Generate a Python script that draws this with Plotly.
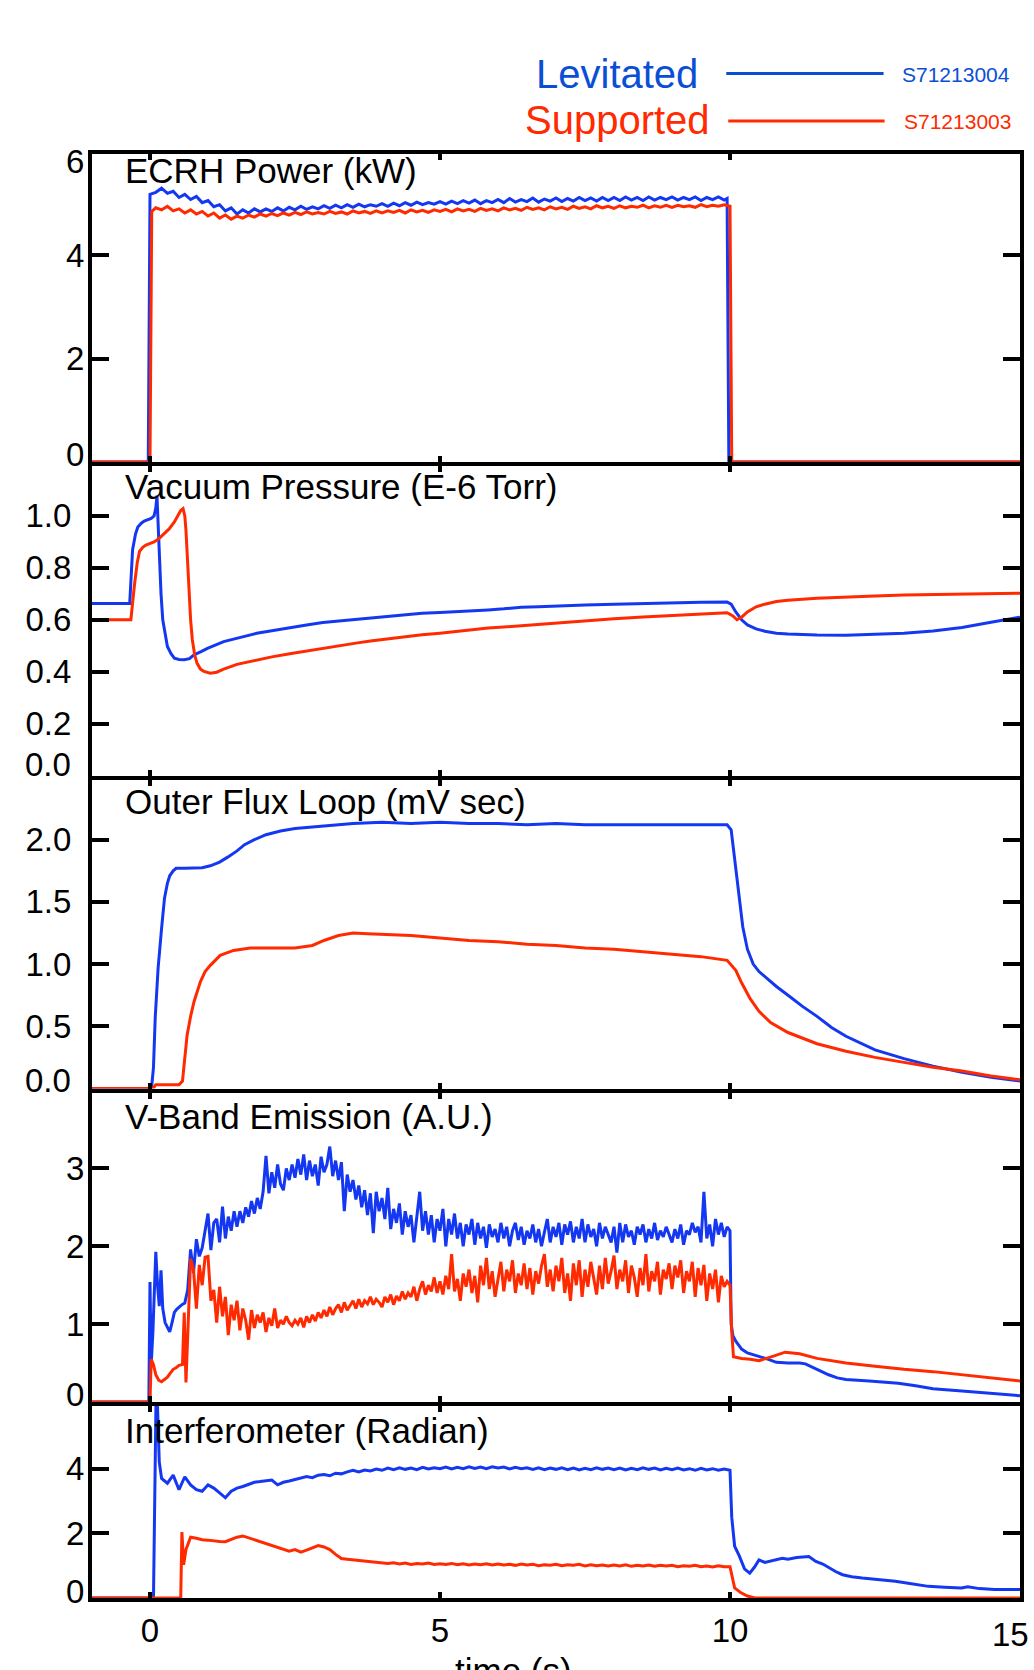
import plotly.graph_objects as go

# ---------------- DATA ----------------
# ECRH Power (kW)
ecrh_lev_t = [-1.0, -0.03,
    0.0, 0.1, 0.2, 0.3, 0.4, 0.5, 0.6, 0.7, 0.8, 0.9,
    1.0, 1.1, 1.2, 1.3, 1.4, 1.5, 1.6, 1.7, 1.8, 1.9,
    2.0, 2.1, 2.2, 2.3, 2.4, 2.5, 2.6, 2.7, 2.8, 2.9,
    3.0, 3.1, 3.2, 3.3, 3.4, 3.5, 3.6, 3.7, 3.8, 3.9,
    4.0, 4.1, 4.2, 4.3, 4.4, 4.5, 4.6, 4.7, 4.8, 4.9,
    5.0, 5.1, 5.2, 5.3, 5.4, 5.5, 5.6, 5.7, 5.8, 5.9,
    6.0, 6.1, 6.2, 6.3, 6.4, 6.5, 6.6, 6.7, 6.8, 6.9,
    7.0, 7.1, 7.2, 7.3, 7.4, 7.5, 7.6, 7.7, 7.8, 7.9,
    8.0, 8.1, 8.2, 8.3, 8.4, 8.5, 8.6, 8.7, 8.8, 8.9,
    9.0, 9.1, 9.2, 9.3, 9.4, 9.5, 9.6, 9.7, 9.8, 9.9,
    9.95, 9.98, 15.0]
ecrh_lev_v = [0.0, 0.0,
    5.18, 5.22, 5.30, 5.20, 5.24, 5.12, 5.18, 5.08, 5.14, 5.02,
    5.06, 4.94, 4.98, 4.86, 4.92, 4.80, 4.88, 4.82, 4.90, 4.84,
    4.90, 4.85, 4.92, 4.86, 4.93, 4.88, 4.95, 4.89, 4.94, 4.90,
    4.96, 4.91, 4.97, 4.92, 4.98, 4.93, 4.99, 4.94, 4.98, 4.95,
    5.00, 4.95, 5.01, 4.96, 5.02, 4.97, 5.03, 4.98, 5.02, 4.99,
    5.04, 4.99, 5.05, 5.00, 5.06, 5.01, 5.07, 5.00, 5.06, 5.02,
    5.08, 5.02, 5.10, 5.03, 5.08, 5.04, 5.11, 5.03, 5.09, 5.05,
    5.11, 5.04, 5.10, 5.05, 5.12, 5.06, 5.11, 5.05, 5.12, 5.06,
    5.12, 5.06, 5.13, 5.07, 5.12, 5.06, 5.13, 5.07, 5.12, 5.08,
    5.13, 5.07, 5.12, 5.08, 5.13, 5.06, 5.12, 5.08, 5.13, 5.07,
    5.10, 0.0, 0.0]

ecrh_sup_t = [-1.0, 0.0, 0.03,
    0.1, 0.2, 0.3, 0.4, 0.5, 0.6, 0.7, 0.8, 0.9,
    1.0, 1.1, 1.2, 1.3, 1.4, 1.5, 1.6, 1.7, 1.8, 1.9,
    2.0, 2.1, 2.2, 2.3, 2.4, 2.5, 2.6, 2.7, 2.8, 2.9,
    3.0, 3.1, 3.2, 3.3, 3.4, 3.5, 3.6, 3.7, 3.8, 3.9,
    4.0, 4.1, 4.2, 4.3, 4.4, 4.5, 4.6, 4.7, 4.8, 4.9,
    5.0, 5.1, 5.2, 5.3, 5.4, 5.5, 5.6, 5.7, 5.8, 5.9,
    6.0, 6.1, 6.2, 6.3, 6.4, 6.5, 6.6, 6.7, 6.8, 6.9,
    7.0, 7.1, 7.2, 7.3, 7.4, 7.5, 7.6, 7.7, 7.8, 7.9,
    8.0, 8.1, 8.2, 8.3, 8.4, 8.5, 8.6, 8.7, 8.8, 8.9,
    9.0, 9.1, 9.2, 9.3, 9.4, 9.5, 9.6, 9.7, 9.8, 9.9,
    10.0, 10.03, 15.0]
ecrh_sup_v = [0.0, 0.0, 4.85,
    4.92, 4.88, 4.95, 4.86, 4.90, 4.82, 4.88, 4.80, 4.85,
    4.76, 4.82, 4.72, 4.78, 4.70, 4.76, 4.72, 4.78, 4.74, 4.80,
    4.76, 4.81, 4.77, 4.82, 4.78, 4.83, 4.79, 4.84, 4.80, 4.83,
    4.80, 4.85, 4.81, 4.84, 4.80, 4.86, 4.82, 4.85, 4.81, 4.86,
    4.82, 4.86, 4.83, 4.87, 4.82, 4.88, 4.84, 4.87, 4.83, 4.88,
    4.85, 4.89, 4.84, 4.90, 4.86, 4.89, 4.85, 4.91, 4.87, 4.90,
    4.86, 4.92, 4.88, 4.91, 4.87, 4.93, 4.89, 4.92, 4.88, 4.94,
    4.90, 4.93, 4.89, 4.95, 4.91, 4.94, 4.90, 4.96, 4.92, 4.95,
    4.91, 4.96, 4.92, 4.95, 4.93, 4.97, 4.92, 4.96, 4.93, 4.97,
    4.93, 4.97, 4.94, 4.96, 4.93, 4.98, 4.94, 4.97, 4.95, 4.98,
    4.95, 0.0, 0.0]

# Vacuum Pressure (E-6 Torr)
pres_lev_t = [-1.0, -0.35, -0.30, -0.25, -0.21, -0.15, -0.10, -0.03, 0.02, 0.07,
    0.10, 0.12, 0.14, 0.16, 0.19, 0.22, 0.26, 0.30, 0.36, 0.42,
    0.50, 0.59, 0.68, 0.76, 0.88, 0.99, 1.27, 1.6, 1.84, 2.1,
    2.41, 2.7, 2.98, 3.3, 3.55, 3.8, 4.12, 4.4, 4.69, 5.0,
    5.26, 5.5, 5.83, 6.1, 6.4, 6.7, 6.97, 7.5, 8.0, 8.5,
    9.0, 9.5, 9.95, 10.02, 10.1, 10.2, 10.3, 10.45, 10.6, 10.8,
    11.0, 11.5, 12.0, 12.5, 13.0, 13.5, 14.0, 14.5, 15.0]
pres_lev_v = [0.663, 0.663, 0.87, 0.93, 0.957, 0.972, 0.980, 0.985, 0.99, 1.00,
    1.03, 1.078, 0.95, 0.82, 0.70, 0.60, 0.54, 0.497, 0.47, 0.452,
    0.447, 0.446, 0.450, 0.465, 0.477, 0.49, 0.516, 0.535, 0.548, 0.558,
    0.57, 0.58, 0.589, 0.596, 0.602, 0.607, 0.615, 0.62, 0.625, 0.628,
    0.632, 0.635, 0.638, 0.642, 0.648, 0.65, 0.653, 0.657, 0.660, 0.663,
    0.665, 0.667, 0.668, 0.66, 0.63, 0.60, 0.58, 0.565, 0.556, 0.548,
    0.545, 0.541, 0.540, 0.543, 0.548, 0.557, 0.57, 0.59, 0.61]

pres_sup_t = [-1.0, -0.33, -0.27, -0.22, -0.18, -0.12, -0.07, 0.0, 0.07, 0.15,
    0.25, 0.33, 0.42, 0.48, 0.53, 0.57, 0.60, 0.62, 0.645, 0.67,
    0.70, 0.73, 0.77, 0.81, 0.87, 0.93, 1.04, 1.15, 1.27, 1.5,
    1.84, 2.1, 2.41, 2.7, 2.98, 3.3, 3.55, 3.8, 4.12, 4.4,
    4.69, 5.0, 5.26, 5.5, 5.83, 6.1, 6.4, 6.7, 6.97, 7.5,
    8.0, 8.5, 9.0, 9.5, 9.95, 10.05, 10.12, 10.2, 10.3, 10.45,
    10.6, 10.8, 11.0, 11.5, 12.0, 12.5, 13.0, 13.5, 14.0, 14.5,
    15.0]
pres_sup_v = [0.60, 0.60, 0.73, 0.82, 0.864, 0.880, 0.888, 0.895, 0.90, 0.912,
    0.932, 0.950, 0.977, 1.000, 1.021, 1.028, 1.00, 0.945, 0.82, 0.69,
    0.60, 0.523, 0.465, 0.433, 0.41, 0.401, 0.394, 0.398, 0.41, 0.428,
    0.446, 0.457, 0.469, 0.48, 0.49, 0.50, 0.51, 0.518, 0.527, 0.535,
    0.542, 0.548, 0.555, 0.56, 0.568, 0.572, 0.577, 0.583, 0.589, 0.597,
    0.604, 0.611, 0.617, 0.622, 0.627, 0.615, 0.60, 0.61, 0.63, 0.65,
    0.66, 0.67, 0.675, 0.683, 0.688, 0.692, 0.695, 0.697, 0.699, 0.700,
    0.702]

# Outer Flux Loop (mV sec)
flux_lev_t = [-1.0, 0.0, 0.03, 0.06, 0.09, 0.14, 0.20, 0.25, 0.30, 0.34,
    0.40, 0.45, 0.6, 0.76, 0.9, 1.04, 1.2, 1.34, 1.5, 1.63,
    1.8, 2.0, 2.25, 2.5, 2.75, 3.0, 3.5, 4.0, 4.5, 5.0,
    5.5, 6.0, 6.5, 7.0, 7.5, 8.0, 8.5, 9.0, 9.5, 9.95,
    10.02, 10.08, 10.15, 10.22, 10.3, 10.4, 10.5, 10.65, 10.8, 11.0,
    11.25, 11.5, 11.75, 12.0, 12.5, 13.0, 13.5, 14.0, 14.5, 15.0]
flux_lev_v = [0.0, 0.0, 0.02, 0.17, 0.57, 0.97, 1.29, 1.53, 1.65, 1.71,
    1.75, 1.77, 1.77, 1.77, 1.775, 1.79, 1.82, 1.86, 1.91, 1.96,
    2.0, 2.04, 2.07, 2.09, 2.10, 2.11, 2.13, 2.14, 2.13, 2.14,
    2.13, 2.13, 2.12, 2.13, 2.12, 2.12, 2.12, 2.12, 2.12, 2.12,
    2.08, 1.85, 1.55, 1.30, 1.12, 1.0, 0.94, 0.88, 0.82, 0.75,
    0.66, 0.58, 0.49, 0.42, 0.31, 0.24, 0.18, 0.13, 0.09, 0.06]

flux_sup_t = [-1.0, 0.05, 0.10, 0.30, 0.50, 0.56, 0.60, 0.64, 0.70, 0.76,
    0.87, 0.95, 1.04, 1.21, 1.44, 1.73, 2.0, 2.5, 2.8, 3.0,
    3.25, 3.5, 3.75, 4.0, 4.5, 5.0, 5.5, 6.0, 6.5, 7.0,
    7.5, 8.0, 8.5, 9.0, 9.5, 9.95, 10.1, 10.2, 10.35, 10.5,
    10.7, 11.0, 11.5, 12.0, 12.5, 13.0, 13.5, 14.0, 14.5, 15.0]
flux_sup_v = [0.0, 0.0, 0.03, 0.03, 0.03, 0.06, 0.25, 0.43, 0.58, 0.70,
    0.86, 0.94, 0.99, 1.07, 1.11, 1.13, 1.13, 1.13, 1.15, 1.19,
    1.23, 1.25, 1.245, 1.24, 1.23, 1.21, 1.19, 1.18, 1.16, 1.15,
    1.13, 1.12, 1.10, 1.08, 1.06, 1.03, 0.95, 0.85, 0.72, 0.62,
    0.53, 0.45, 0.36, 0.30, 0.25, 0.21, 0.17, 0.14, 0.10, 0.07]

# V-Band Emission (A.U.)
vb_lev_t = [-1.0, -0.02, 0.0, 0.02, 0.05, 0.08, 0.10, 0.13, 0.16, 0.19,
    0.22, 0.26, 0.30, 0.34, 0.38, 0.42, 0.46,
    0.50, 0.55, 0.60, 0.65, 0.70, 0.75, 0.80, 0.85, 0.90, 0.95,
    1.00, 1.05, 1.10, 1.15, 1.20, 1.25, 1.30, 1.35, 1.40, 1.45,
    1.50, 1.55, 1.60, 1.65, 1.70, 1.75, 1.80, 1.85, 1.90, 1.95,
    2.00, 2.05, 2.10, 2.15, 2.20, 2.25, 2.30, 2.35, 2.40, 2.45,
    2.50, 2.55, 2.60, 2.65, 2.70, 2.75, 2.80, 2.85, 2.90, 2.95,
    3.00, 3.05, 3.10, 3.15, 3.20, 3.25, 3.30, 3.35, 3.40, 3.45,
    3.50, 3.55, 3.60, 3.65, 3.70, 3.75, 3.80, 3.85, 3.90, 3.95,
    4.00, 4.05, 4.10, 4.15, 4.20, 4.25, 4.30, 4.35, 4.40, 4.45,
    4.50, 4.55, 4.60, 4.65, 4.70, 4.75, 4.80, 4.85, 4.90, 4.95,
    5.00, 5.05, 5.10, 5.15, 5.20, 5.25, 5.30, 5.35, 5.40, 5.45,
    5.50, 5.55, 5.60, 5.65, 5.70, 5.75, 5.80, 5.85, 5.90, 5.95,
    6.00, 6.05, 6.10, 6.15, 6.20, 6.25, 6.30, 6.35, 6.40, 6.45,
    6.50, 6.55, 6.60, 6.65, 6.70, 6.75, 6.80, 6.85, 6.90, 6.95,
    7.00, 7.05, 7.10, 7.15, 7.20, 7.25, 7.30, 7.35, 7.40, 7.45,
    7.50, 7.55, 7.60, 7.65, 7.70, 7.75, 7.80, 7.85, 7.90, 7.95,
    8.00, 8.05, 8.10, 8.15, 8.20, 8.25, 8.30, 8.35, 8.40, 8.45,
    8.50, 8.55, 8.60, 8.65, 8.70, 8.75, 8.80, 8.85, 8.90, 8.95,
    9.00, 9.05, 9.10, 9.15, 9.20, 9.25, 9.30, 9.35, 9.40, 9.45,
    9.50, 9.55, 9.60, 9.65, 9.70, 9.75, 9.80, 9.85, 9.90, 9.95,
    10.00, 10.02, 10.05, 10.1, 10.2, 10.3, 10.4, 10.5, 10.65, 10.8,
    11.0, 11.2, 11.3, 11.5, 11.7, 11.85, 12.0, 12.4, 12.9, 13.2,
    13.5, 14.0, 14.5, 15.0]
vb_lev_v = [0.0, 0.0, 1.54, 0.47, 0.90, 1.50, 1.93, 1.50, 1.23, 1.69,
    1.20, 1.02, 0.95, 0.90, 1.02, 1.15, 1.19,
    1.22, 1.25, 1.27, 1.44, 1.96, 1.66, 2.09, 1.87, 1.98, 2.21,
    2.42, 1.95, 2.30, 2.35, 2.05, 2.51, 2.10, 2.38, 2.20, 2.45,
    2.25, 2.45, 2.30, 2.50, 2.38, 2.58, 2.42, 2.62, 2.48, 2.70,
    3.16, 2.68, 2.95, 2.75, 3.05, 2.80, 2.72, 3.00, 2.85, 3.05,
    2.88, 3.12, 2.92, 3.18, 2.85, 3.10, 2.90, 3.05, 2.78, 3.15,
    2.95, 3.05, 3.28, 2.90, 3.10, 2.85, 3.08, 2.45, 2.92, 2.70,
    2.85, 2.60, 2.78, 2.50, 2.72, 2.40, 2.68, 2.17, 2.70, 2.45,
    2.62, 2.35, 2.75, 2.22, 2.48, 2.30, 2.55, 2.15, 2.45, 2.25,
    2.40, 2.05, 2.35, 2.70, 2.20, 2.45, 2.15, 2.40, 2.05, 2.35,
    2.20, 2.48, 2.00, 2.35, 2.15, 2.42, 2.10, 2.30, 2.00, 2.28,
    2.15, 2.35, 2.02, 2.30, 2.10, 2.25, 1.98, 2.28, 2.12, 2.22,
    2.05, 2.30, 2.10, 2.25, 2.00, 2.20, 2.30, 2.08, 2.25, 2.02,
    2.20, 2.10, 2.28, 2.05, 2.22, 2.00, 2.18, 2.35, 2.05, 2.25,
    2.12, 2.30, 2.02, 2.28, 2.15, 2.32, 2.05, 2.25, 2.10, 2.35,
    2.05, 2.28, 2.12, 2.22, 2.00, 2.30, 2.10, 2.25, 2.15, 2.05,
    2.25, 1.92, 2.30, 2.05, 2.28, 2.12, 2.20, 2.02, 2.25, 2.15,
    2.28, 2.05, 2.22, 2.10, 2.30, 2.08, 2.20, 2.12, 2.25, 2.15,
    2.05, 2.22, 2.10, 2.28, 2.02, 2.20, 2.15, 2.30, 2.18, 2.25,
    2.05, 2.70, 2.10, 2.28, 2.00, 2.35, 2.15, 2.30, 2.12, 2.25,
    2.20, 1.00, 0.85, 0.78, 0.68, 0.63, 0.61, 0.58, 0.55, 0.51,
    0.50, 0.50, 0.49, 0.42, 0.35, 0.31, 0.29, 0.27, 0.24, 0.21,
    0.17, 0.14, 0.11, 0.08]

vb_sup_t = [-1.0, 0.0, 0.02, 0.06, 0.10, 0.15, 0.20, 0.25, 0.30, 0.35,
    0.40, 0.45, 0.50, 0.56, 0.59, 0.62, 0.66, 0.70,
    0.75, 0.80, 0.85, 0.90, 0.95,
    1.00, 1.05, 1.10, 1.15, 1.20, 1.25, 1.30, 1.35, 1.40, 1.45,
    1.50, 1.55, 1.60, 1.65, 1.70, 1.75, 1.80, 1.85, 1.90, 1.95,
    2.00, 2.05, 2.10, 2.15, 2.20, 2.25, 2.30, 2.35, 2.40, 2.45,
    2.50, 2.55, 2.60, 2.65, 2.70, 2.75, 2.80, 2.85, 2.90, 2.95,
    3.00, 3.05, 3.10, 3.15, 3.20, 3.25, 3.30, 3.35, 3.40, 3.45,
    3.50, 3.55, 3.60, 3.65, 3.70, 3.75, 3.80, 3.85, 3.90, 3.95,
    4.00, 4.05, 4.10, 4.15, 4.20, 4.25, 4.30, 4.35, 4.40, 4.45,
    4.50, 4.55, 4.60, 4.65, 4.70, 4.75, 4.80, 4.85, 4.90, 4.95,
    5.00, 5.05, 5.10, 5.15, 5.20, 5.25, 5.30, 5.35, 5.40, 5.45,
    5.50, 5.55, 5.60, 5.65, 5.70, 5.75, 5.80, 5.85, 5.90, 5.95,
    6.00, 6.05, 6.10, 6.15, 6.20, 6.25, 6.30, 6.35, 6.40, 6.45,
    6.50, 6.55, 6.60, 6.65, 6.70, 6.75, 6.80, 6.85, 6.90, 6.95,
    7.00, 7.05, 7.10, 7.15, 7.20, 7.25, 7.30, 7.35, 7.40, 7.45,
    7.50, 7.55, 7.60, 7.65, 7.70, 7.75, 7.80, 7.85, 7.90, 7.95,
    8.00, 8.05, 8.10, 8.15, 8.20, 8.25, 8.30, 8.35, 8.40, 8.45,
    8.50, 8.55, 8.60, 8.65, 8.70, 8.75, 8.80, 8.85, 8.90, 8.95,
    9.00, 9.05, 9.10, 9.15, 9.20, 9.25, 9.30, 9.35, 9.40, 9.45,
    9.50, 9.55, 9.60, 9.65, 9.70, 9.75, 9.80, 9.85, 9.90, 9.95,
    10.00, 10.03, 10.06, 10.2, 10.35, 10.5, 10.6, 10.75, 10.95, 11.2,
    11.5, 12.0, 12.5, 13.0, 13.5, 14.0, 14.5, 15.0]
vb_sup_v = [0.0, 0.0, 0.55, 0.48, 0.35, 0.28, 0.26, 0.29, 0.32, 0.37,
    0.42, 0.44, 0.47, 0.48, 1.15, 0.25, 1.00, 1.84,
    1.70, 1.20, 1.76, 1.50, 1.86,
    1.87, 1.30, 1.44, 1.02, 1.48, 1.10, 1.35, 0.86, 1.25, 1.05,
    1.30, 0.92, 1.20, 1.05, 0.80, 1.18, 0.95, 1.12, 1.02, 1.15,
    0.90, 1.08, 0.98, 1.20, 0.95, 1.05, 1.00, 1.10, 1.02, 0.98,
    1.05, 1.00, 1.08, 0.96, 1.10, 1.02, 1.12, 1.04, 1.15, 1.08,
    1.18, 1.10, 1.22, 1.12, 1.20, 1.25, 1.15, 1.28, 1.18, 1.24,
    1.30, 1.20, 1.32, 1.22, 1.30, 1.26, 1.35, 1.25, 1.32, 1.28,
    1.22, 1.35, 1.28, 1.38, 1.25, 1.36, 1.30, 1.42, 1.32, 1.40,
    1.35, 1.48, 1.30, 1.45, 1.55, 1.38, 1.50, 1.42, 1.60, 1.40,
    1.55, 1.38, 1.62, 1.45, 1.90, 1.42, 1.58, 1.30, 1.65, 1.48,
    1.70, 1.40, 1.62, 1.28, 1.75, 1.50, 1.85, 1.45, 1.68, 1.35,
    1.60, 1.80, 1.42, 1.70, 1.55, 1.82, 1.40, 1.65, 1.50, 1.78,
    1.45, 1.72, 1.38, 1.68, 1.52, 1.75, 1.90, 1.48, 1.70, 1.42,
    1.75, 1.55, 1.85, 1.40, 1.65, 1.30, 1.78, 1.50, 1.82, 1.35,
    1.70, 1.48, 1.80, 1.60, 1.38, 1.75, 1.45, 1.85, 1.52, 1.68,
    1.88, 1.45, 1.70, 1.55, 1.82, 1.40, 1.75, 1.60, 1.35, 1.72,
    1.50, 1.90, 1.42, 1.68, 1.55, 1.80, 1.38, 1.70, 1.58, 1.78,
    1.45, 1.75, 1.60, 1.82, 1.40, 1.68, 1.55, 1.80, 1.35, 1.72,
    1.50, 1.76, 1.30, 1.65, 1.45, 1.70, 1.28, 1.62, 1.48, 1.55,
    1.50, 0.90, 0.58, 0.56, 0.55, 0.53, 0.55, 0.59, 0.64, 0.62,
    0.56, 0.50, 0.46, 0.42, 0.39, 0.35, 0.31, 0.27]

# Interferometer (Radian)
intf_lev_t = [-1.0, 0.06, 0.11, 0.16,
    0.2, 0.3, 0.4, 0.5, 0.6, 0.7, 0.8, 0.9,
    1.0, 1.1, 1.2, 1.3, 1.4, 1.5, 1.6, 1.7, 1.8, 1.9,
    2.0, 2.1, 2.2, 2.3, 2.4, 2.5, 2.6, 2.7, 2.8, 2.9,
    3.0, 3.1, 3.2, 3.3, 3.4, 3.5, 3.6, 3.7, 3.8, 3.9,
    4.0, 4.1, 4.2, 4.3, 4.4, 4.5, 4.6, 4.7, 4.8, 4.9,
    5.0, 5.1, 5.2, 5.3, 5.4, 5.5, 5.6, 5.7, 5.8, 5.9,
    6.0, 6.1, 6.2, 6.3, 6.4, 6.5, 6.6, 6.7, 6.8, 6.9,
    7.0, 7.1, 7.2, 7.3, 7.4, 7.5, 7.6, 7.7, 7.8, 7.9,
    8.0, 8.1, 8.2, 8.3, 8.4, 8.5, 8.6, 8.7, 8.8, 8.9,
    9.0, 9.1, 9.2, 9.3, 9.4, 9.5, 9.6, 9.7, 9.8, 9.9,
    10.0, 10.03, 10.08, 10.16, 10.25, 10.34, 10.42, 10.5, 10.6, 10.68,
    10.8, 10.9, 11.0, 11.15, 11.36, 11.48, 11.6, 11.71, 11.82, 11.94,
    12.1, 12.28, 12.5, 12.85, 13.1, 13.42, 13.7, 13.99, 14.1, 14.3,
    14.56, 14.8, 15.0]
intf_lev_v = [0.0, 0.0, 7.0, 4.2,
    3.70, 3.55, 3.80, 3.35, 3.75, 3.50, 3.35, 3.30,
    3.50, 3.40, 3.25, 3.10, 3.30, 3.40, 3.45, 3.52, 3.58, 3.60,
    3.62, 3.65, 3.50, 3.58, 3.62, 3.66, 3.70, 3.76, 3.72, 3.80,
    3.82, 3.78, 3.86, 3.84, 3.90, 3.95, 3.90, 3.96, 3.93, 3.99,
    3.95, 4.02, 3.97, 4.03, 3.98, 4.02, 3.97, 4.04, 3.99, 4.03,
    4.00, 4.05, 3.99, 4.04, 4.00, 4.06, 4.01, 4.05, 4.00, 4.06,
    4.02, 4.05, 3.99, 4.04, 4.00, 4.03, 3.98, 4.03, 3.97, 4.02,
    3.98, 4.03, 3.97, 4.02, 3.96, 4.01, 3.97, 4.03, 3.98, 4.02,
    3.97, 4.02, 3.96, 4.01, 3.97, 4.03, 3.98, 4.02, 3.96, 4.01,
    3.97, 4.02, 3.96, 4.00, 3.95, 4.01, 3.96, 4.00, 3.95, 3.99,
    3.95, 2.5, 1.6, 1.3, 0.9, 0.77, 0.95, 1.18, 1.10, 1.13,
    1.18, 1.23, 1.20, 1.25, 1.28, 1.13, 1.05, 0.93, 0.82, 0.72,
    0.66, 0.62, 0.58, 0.52, 0.45, 0.36, 0.33, 0.31, 0.35, 0.29,
    0.26, 0.27, 0.26]

intf_sup_t = [-1.0, 0.53, 0.55, 0.58, 0.62, 0.66,
    0.7, 0.8, 0.9,
    1.0, 1.1, 1.2, 1.3, 1.4, 1.5, 1.6, 1.7, 1.8, 1.9,
    2.0, 2.1, 2.2, 2.3, 2.4, 2.5, 2.6, 2.7, 2.8, 2.9,
    3.0, 3.1, 3.2, 3.3, 3.4, 3.5, 3.6, 3.7, 3.8, 3.9,
    4.0, 4.1, 4.2, 4.3, 4.4, 4.5, 4.6, 4.7, 4.8, 4.9,
    5.0, 5.1, 5.2, 5.3, 5.4, 5.5, 5.6, 5.7, 5.8, 5.9,
    6.0, 6.1, 6.2, 6.3, 6.4, 6.5, 6.6, 6.7, 6.8, 6.9,
    7.0, 7.1, 7.2, 7.3, 7.4, 7.5, 7.6, 7.7, 7.8, 7.9,
    8.0, 8.1, 8.2, 8.3, 8.4, 8.5, 8.6, 8.7, 8.8, 8.9,
    9.0, 9.1, 9.2, 9.3, 9.4, 9.5, 9.6, 9.7, 9.8, 9.9,
    10.0, 10.08, 10.19, 10.3, 10.43, 15.0]
intf_sup_v = [0.0, 0.0, 2.04, 1.03, 1.50, 1.70,
    1.88, 1.85, 1.80,
    1.79, 1.76, 1.75, 1.74, 1.82, 1.88, 1.92, 1.86, 1.80, 1.75,
    1.70, 1.64, 1.58, 1.50, 1.45, 1.50, 1.42, 1.48, 1.55, 1.62,
    1.58, 1.50, 1.35, 1.22, 1.20, 1.18, 1.17, 1.14, 1.12, 1.10,
    1.09, 1.07, 1.09, 1.05, 1.08, 1.04, 1.07, 1.05, 1.08, 1.04,
    1.06, 1.04, 1.07, 1.03, 1.06, 1.02, 1.05, 1.03, 1.06, 1.02,
    1.05, 1.02, 1.04, 1.01, 1.05, 1.02, 1.04, 1.00, 1.03, 1.01,
    1.04, 1.00, 1.03, 1.01, 1.04, 0.99, 1.03, 1.00, 1.02, 0.99,
    1.02, 0.99, 1.03, 0.98, 1.01, 0.99, 1.02, 0.98, 1.01, 0.99,
    1.01, 0.97, 1.00, 0.98, 1.01, 0.97, 0.99, 0.96, 1.00, 0.97,
    0.97, 0.31, 0.16, 0.06, 0.0, 0.0]

panel_titles = ["ECRH Power (kW)", "Vacuum Pressure (E-6 Torr)", "Outer Flux Loop (mV sec)",
                "V-Band Emission (A.U.)", "Interferometer (Radian)"]
y_max = [6, 1.2, 2.5, 4, 6]
y_tickvals = [[2, 4], [0.2, 0.4, 0.6, 0.8, 1.0], [0.5, 1.0, 1.5, 2.0], [1, 2, 3], [2, 4]]
y_ticktext = [["2", "4"], ["0.2", "0.4", "0.6", "0.8", "1.0"], ["0.5", "1.0", "1.5", "2.0"],
              ["1", "2", "3"], ["2", "4"]]
x_tickvals = [0, 5, 10, 15]
x_ticktext = ["0", "5", "10", "15"]
series_names = ["Levitated", "Supported"]
shot_ids = ["S71213004", "S71213003"]

# ---------------- STYLE / GEOMETRY ----------------
BLUE = "#1438f2"
RED = "#ff2a00"
BLUE_TXT = "#0b4ed6"
FONT = "Liberation Sans, Arial, Helvetica, sans-serif"
W, H = 1034, 1670
PX0, PX1 = 92, 1024           # plot area in page pixels
PY0, PY1 = 154, 1598
ML, MR = PX0, W - PX1
MT, MB = PY0, H - PY1
PW, PH = PX1 - PX0, PY1 - PY0
line_centers = [152, 464, 777.5, 1090.5, 1404, 1600]   # frame lines (page px)


def py2paper(py):
    return (PY1 - py) / PH


def px2paper(px):
    return (px - PX0) / PW


panels = [
    (ecrh_lev_t, ecrh_lev_v, ecrh_sup_t, ecrh_sup_v),
    (pres_lev_t, pres_lev_v, pres_sup_t, pres_sup_v),
    (flux_lev_t, flux_lev_v, flux_sup_t, flux_sup_v),
    (vb_lev_t, vb_lev_v, vb_sup_t, vb_sup_v),
    (intf_lev_t, intf_lev_v, intf_sup_t, intf_sup_v),
]

fig = go.Figure()
for i, (lt, lv, st, sv) in enumerate(panels, start=1):
    assert len(lt) == len(lv), (i, len(lt), len(lv))
    assert len(st) == len(sv), (i, len(st), len(sv))
    xa = "x" if i == 1 else f"x{i}"
    ya = "y" if i == 1 else f"y{i}"
    fig.add_trace(go.Scatter(x=lt, y=lv, xaxis=xa, yaxis=ya, mode="lines",
                             line=dict(color=BLUE, width=3), name=series_names[0],
                             showlegend=False, hoverinfo="skip"))
    fig.add_trace(go.Scatter(x=st, y=sv, xaxis=xa, yaxis=ya, mode="lines",
                             line=dict(color=RED, width=3), name=series_names[1],
                             showlegend=False, hoverinfo="skip"))

layout = dict(
    width=W, height=H, autosize=False,
    margin=dict(l=ML, r=MR, t=MT, b=MB, pad=0),
    paper_bgcolor="white", plot_bgcolor="white",
    font=dict(family=FONT, color="black", size=33),
    showlegend=False,
)
for i in range(1, 6):
    xk = "xaxis" if i == 1 else f"xaxis{i}"
    yk = "yaxis" if i == 1 else f"yaxis{i}"
    ya = "y" if i == 1 else f"y{i}"
    xa = "x" if i == 1 else f"x{i}"
    top_px = line_centers[i - 1] + 2
    bot_px = line_centers[i] - 2
    ppu = (line_centers[i] - line_centers[i - 1]) / y_max[i - 1]
    # last tick label ("15") sits on the page edge; it is drawn as an annotation below
    layout[xk] = dict(
        domain=[0, 1], range=[-1, 15], anchor=ya,
        showline=True, linewidth=4, linecolor="black", mirror="ticks",
        ticks="inside", ticklen=6, tickwidth=4, tickcolor="black",
        tickvals=x_tickvals if i == 5 else [0, 5, 10],
        ticktext=(x_ticktext[:-1] + [""]) if i == 5 else ["", "", ""],
        showticklabels=(i == 5),
        tickfont=dict(size=33, family=FONT, color="black"),
        showgrid=False, zeroline=False,
    )
    if i > 1:
        layout[xk]["matches"] = "x"
    decimal = i in (2, 3)
    layout[yk] = dict(
        domain=[max(py2paper(bot_px), 0), min(py2paper(top_px), 1)],
        range=[0, y_max[i - 1] - 2 / ppu], anchor=xa,
        showline=True, linewidth=4, linecolor="black", mirror="ticks",
        ticks="inside", ticklen=17, tickwidth=4, tickcolor="black",
        tickvals=y_tickvals[i - 1], ticktext=y_ticktext[i - 1],
        tickfont=dict(size=33, family=FONT, color="black"),
        ticklabelstandoff=10 if decimal else -3,
        showgrid=False, zeroline=False,
    )

annotations = []
# panel titles
title_cy = [170, 487, 801, 1116, 1430]
for i, t in enumerate(panel_titles):
    annotations.append(dict(text=t, xref="paper", yref="paper",
                            x=px2paper(123), y=py2paper(title_cy[i]),
                            xanchor="left", yanchor="middle", showarrow=False,
                            font=dict(size=35, family=FONT, color="black")))

# edge tick labels (kept inside their panel like the original)
edge_labels = [("6", 161, 85), ("0", 454, 85), ("0.0", 764, 72), ("0.0", 1080, 72),
               ("0", 1394, 85), ("0", 1591, 85)]
for txt, cy, rx in edge_labels:
    annotations.append(dict(text=txt, xref="paper", yref="paper",
                            x=px2paper(rx + 1), y=py2paper(cy),
                            xanchor="right", yanchor="middle", showarrow=False,
                            font=dict(size=33, family=FONT, color="black")))

# last x tick label at the right page edge
annotations.append(dict(text=x_ticktext[-1], xref="paper", yref="paper",
                        x=px2paper(1034), y=py2paper(1634),
                        xanchor="right", yanchor="middle", showarrow=False,
                        borderpad=0,
                        font=dict(size=33, family=FONT, color="black")))

# x-axis title (cut at the bottom edge like the original)
annotations.append(dict(text="time (s)", xref="paper", yref="paper",
                        x=px2paper(515), y=py2paper(1649), xanchor="center", yanchor="top",
                        showarrow=False, font=dict(size=35, family=FONT, color="black")))

# legend
annotations += [
    dict(text=series_names[0], xref="paper", yref="paper", x=px2paper(703), y=py2paper(73.5),
         xanchor="right", yanchor="middle", showarrow=False,
         font=dict(size=40, family=FONT, color=BLUE_TXT)),
    dict(text=series_names[1], xref="paper", yref="paper", x=px2paper(715), y=py2paper(120),
         xanchor="right", yanchor="middle", showarrow=False,
         font=dict(size=40, family=FONT, color=RED)),
    dict(text=shot_ids[0], xref="paper", yref="paper", x=px2paper(903), y=py2paper(74),
         xanchor="left", yanchor="middle", showarrow=False,
         font=dict(size=21, family=FONT, color=BLUE_TXT)),
    dict(text=shot_ids[1], xref="paper", yref="paper", x=px2paper(905), y=py2paper(121.5),
         xanchor="left", yanchor="middle", showarrow=False,
         font=dict(size=21, family=FONT, color=RED)),
]
shapes = [
    dict(type="line", xref="paper", yref="paper", x0=px2paper(729), x1=px2paper(887),
         y0=py2paper(73.5), y1=py2paper(73.5), line=dict(color=BLUE_TXT, width=3)),
    dict(type="line", xref="paper", yref="paper", x0=px2paper(731), x1=px2paper(888),
         y0=py2paper(121), y1=py2paper(121), line=dict(color=RED, width=3)),
]
layout["annotations"] = annotations
layout["shapes"] = shapes
fig.update_layout(**layout)
# remove the browser's default page margin / scrollbars so the figure sits at the page origin
fig.write_html(
    "out.html",
    config={"responsive": False, "displayModeBar": False},
    post_script=("document.documentElement.style.margin='0px';"
                 "document.documentElement.style.overflow='hidden';"
                 "document.body.style.margin='0px';"
                 "document.body.style.overflow='hidden';"),
)
